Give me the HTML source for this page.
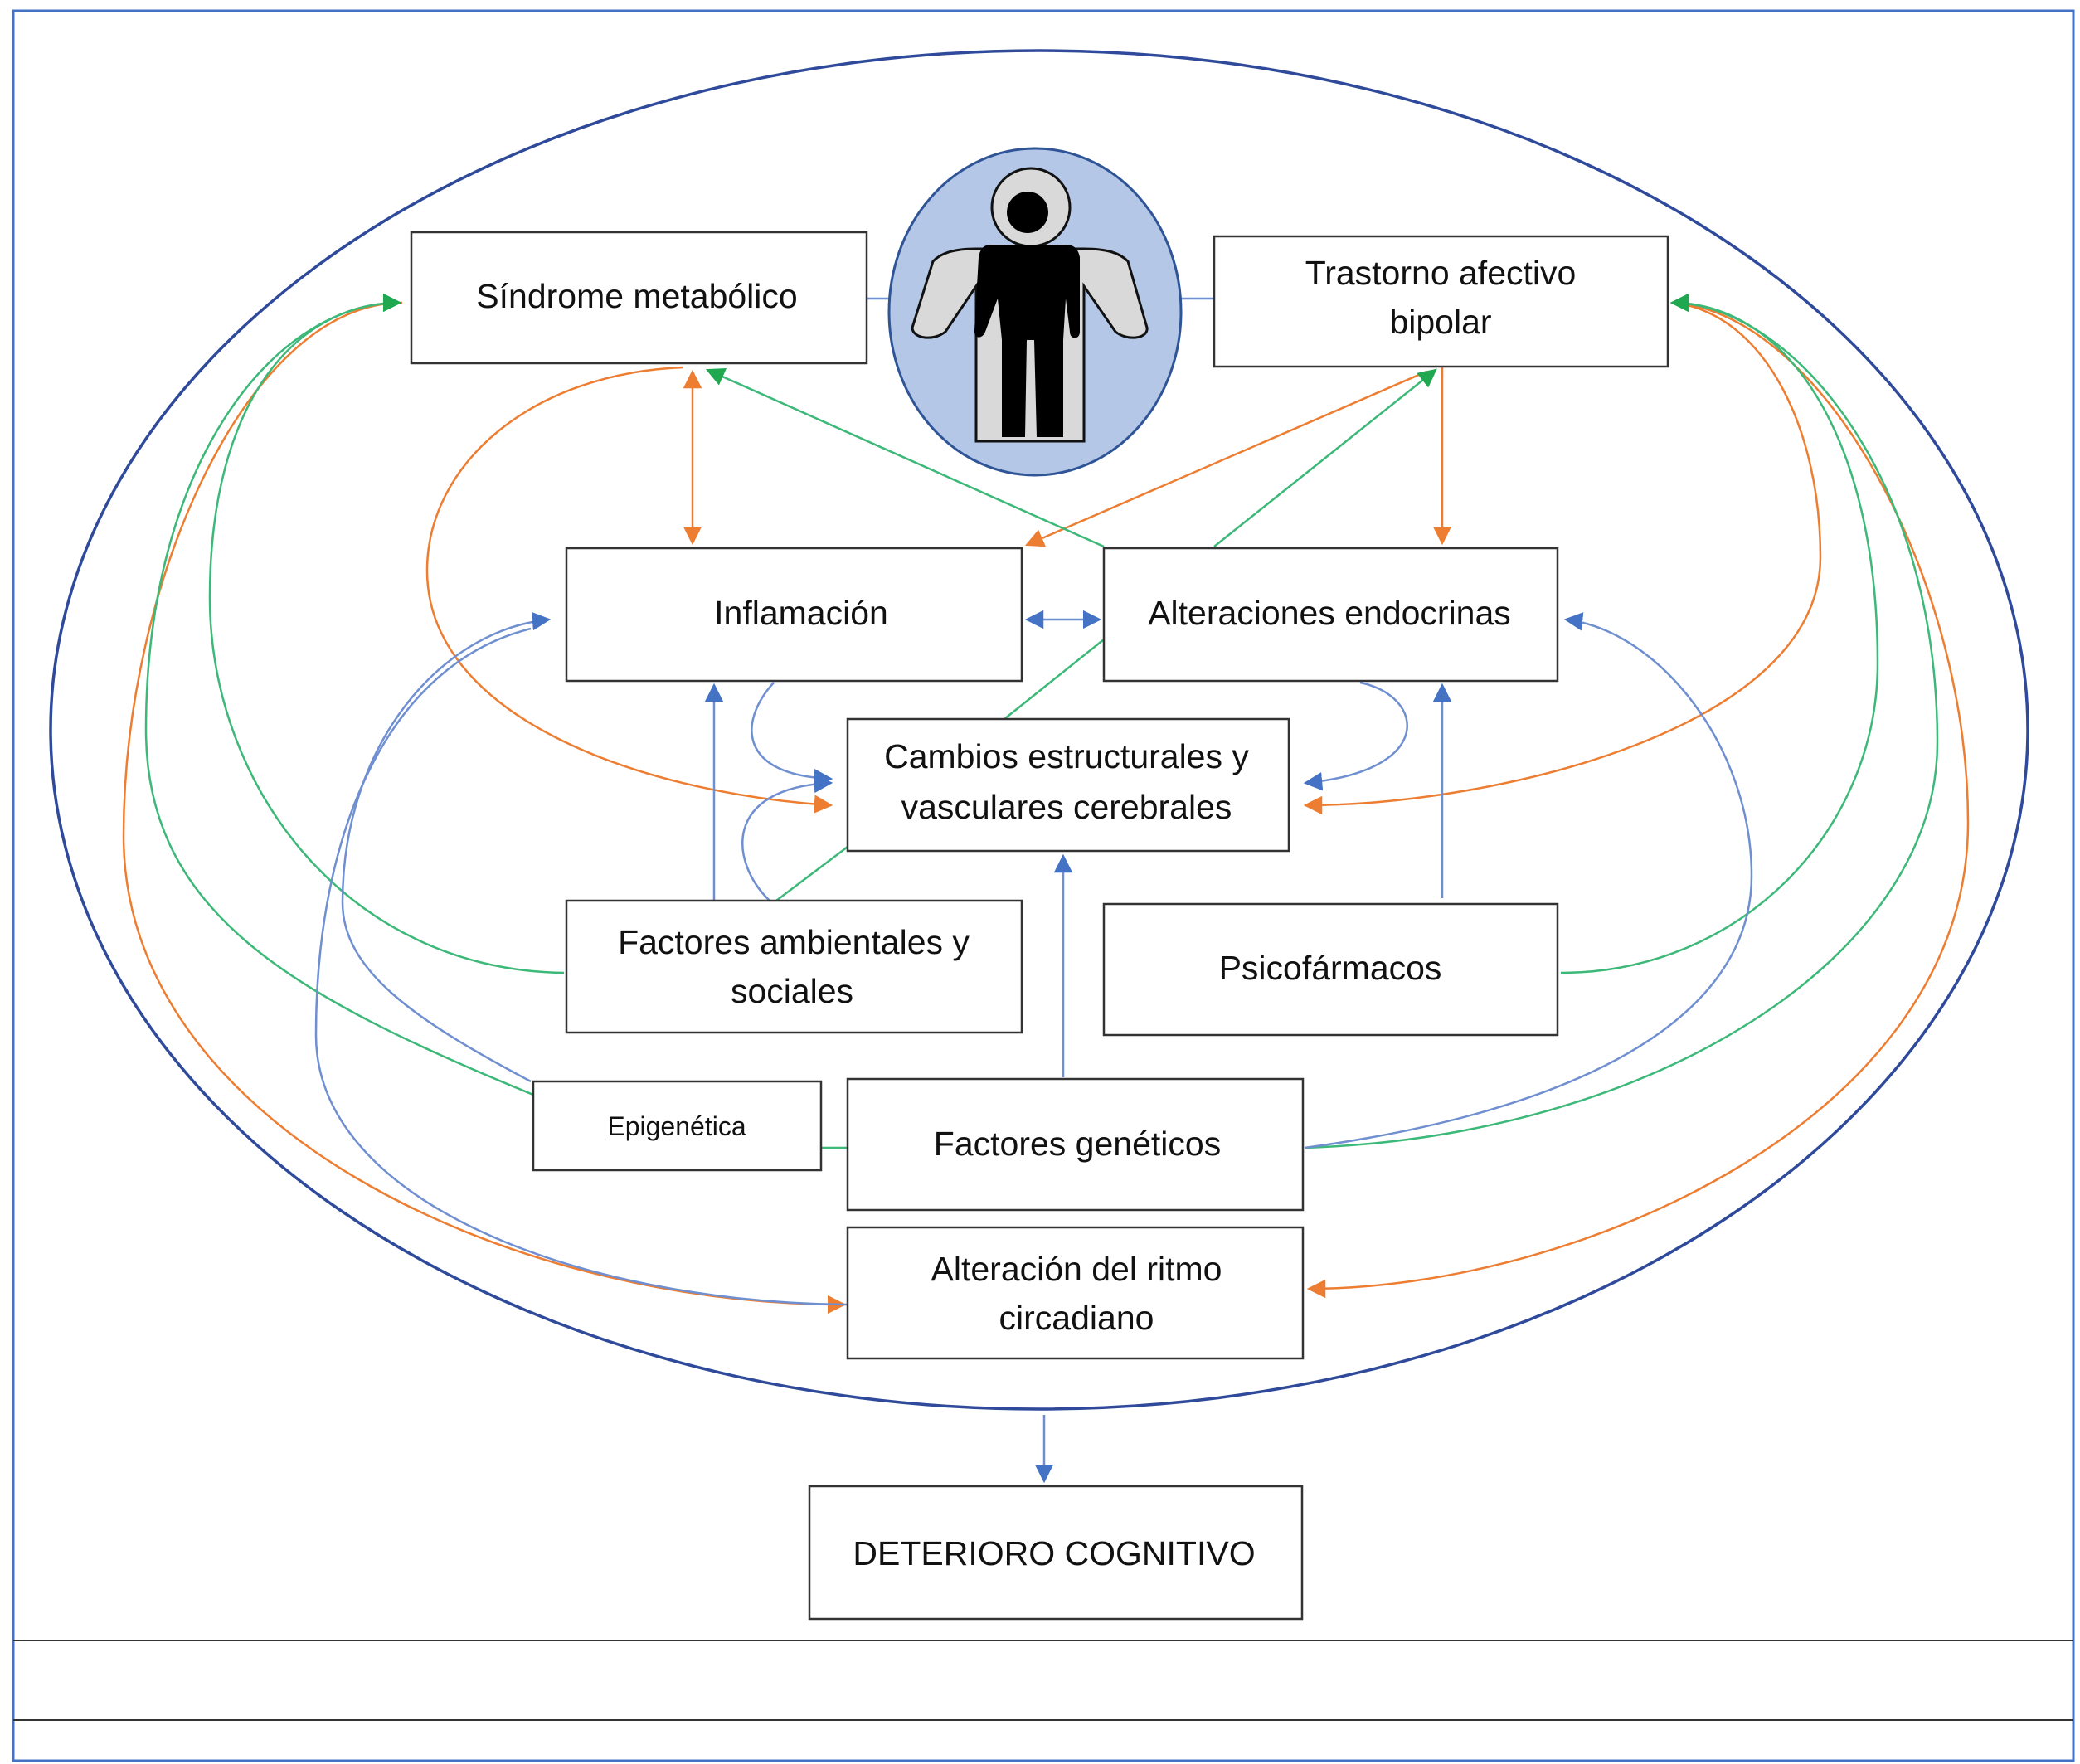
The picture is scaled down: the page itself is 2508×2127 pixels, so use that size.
<!DOCTYPE html>
<html><head><meta charset="utf-8"><style>
html,body{margin:0;padding:0;background:#fff}
svg{display:block}
text{font-family:"Liberation Sans",sans-serif;fill:#111}
</style></head><body>
<svg width="2508" height="2127" viewBox="0 0 2508 2127" xmlns="http://www.w3.org/2000/svg">
<defs>
<marker id="ao" viewBox="0 0 10 10" refX="9" refY="5" markerWidth="9" markerHeight="9" orient="auto-start-reverse"><path d="M0,0 L10,5 L0,10 z" fill="#ed7d31"/></marker>
<marker id="ag" viewBox="0 0 10 10" refX="9" refY="5" markerWidth="9" markerHeight="9" orient="auto-start-reverse"><path d="M0,0 L10,5 L0,10 z" fill="#1fa84f"/></marker>
<marker id="ab" viewBox="0 0 10 10" refX="9" refY="5" markerWidth="9" markerHeight="9" orient="auto-start-reverse"><path d="M0,0 L10,5 L0,10 z" fill="#4472c4"/></marker>
</defs>
<style>
.o{fill:none;stroke:#ed7d31;stroke-width:2.5}
.g{fill:none;stroke:#3cb878;stroke-width:2.5}
.b{fill:none;stroke:#6f8fd0;stroke-width:2.5}
.bx{fill:#fff;stroke:#333;stroke-width:2.5}
</style>
<rect x="16" y="13" width="2484" height="2110" fill="none" stroke="#4472c4" stroke-width="3"/>
<line x1="16" y1="1978" x2="2500" y2="1978" stroke="#333" stroke-width="2"/>
<line x1="16" y1="2074" x2="2500" y2="2074" stroke="#333" stroke-width="2"/>
<ellipse cx="1253" cy="880" rx="1192" ry="819" fill="none" stroke="#2f4a9a" stroke-width="3.5"/>
<line x1="1045" y1="360" x2="1075" y2="360" stroke="#6f8fd0" stroke-width="2.5"/>
<line x1="1422" y1="360" x2="1464" y2="360" stroke="#6f8fd0" stroke-width="2.5"/>

<line class="o" x1="835" y1="448" x2="835" y2="655" marker-start="url(#ao)" marker-end="url(#ao)"/>
<line class="o" x1="1739" y1="442" x2="1739" y2="655" marker-end="url(#ao)"/>
<line class="o" x1="1720" y1="448" x2="1238" y2="657" marker-end="url(#ao)"/>
<path class="o" d="M824 443 C640 450,515 560,515 688 C515 860,760 955,1002 971" marker-end="url(#ao)"/>
<path class="o" d="M2019 365 C2130 380,2195 520,2195 672 C2195 880,1800 971,1574 971" marker-end="url(#ao)"/>
<path class="o" d="M485 365 C300 365,149 700,149 1008 C149 1350,600 1573,1018 1573" marker-end="url(#ao)"/>
<path class="o" d="M2019 365 C2200 380,2373 700,2373 992 C2373 1350,1900 1554,1578 1554" marker-end="url(#ao)"/>

<line class="g" x1="1331" y1="659" x2="853" y2="446" marker-end="url(#ag)"/>
<line class="g" x1="1464" y1="659" x2="1731" y2="446" marker-end="url(#ag)"/>
<line class="g" x1="1331" y1="771" x2="1211" y2="867"/>
<line class="g" x1="1022" y1="1021" x2="936" y2="1086"/>
<line class="g" x1="990" y1="1384" x2="1022" y2="1384"/>
<path class="g" d="M680 1173 C420 1170,253 950,253 720 C253 480,360 365,482 365" marker-end="url(#ag)"/>
<path class="g" d="M643 1320 C350 1200,176 1100,176 880 C176 560,330 365,482 365" marker-end="url(#ag)"/>
<path class="g" d="M1882 1173 C2100 1173,2264 1000,2264 800 C2264 520,2150 365,2016 365" marker-end="url(#ag)"/>
<path class="g" d="M1573 1384 C2000 1370,2336 1150,2336 896 C2336 560,2150 365,2016 365" marker-end="url(#ag)"/>

<line class="b" x1="1238" y1="747" x2="1326" y2="747" marker-start="url(#ab)" marker-end="url(#ab)"/>
<line class="b" x1="861" y1="1086" x2="861" y2="826" marker-end="url(#ab)"/>
<line class="b" x1="1739" y1="1083" x2="1739" y2="826" marker-end="url(#ab)"/>
<line class="b" x1="1282" y1="1299" x2="1282" y2="1032" marker-end="url(#ab)"/>
<path class="b" d="M933 823 C890 870,890 935,1002 939" marker-end="url(#ab)"/>
<path class="b" d="M928 1086 C880 1040,870 950,1002 944" marker-end="url(#ab)"/>
<path class="b" d="M1640 823 C1720 840,1730 930,1574 944" marker-end="url(#ab)"/>
<path class="b" d="M640 1304 C500 1230,413 1170,413 1088 C413 900,530 760,662 747" marker-end="url(#ab)"/>
<path class="b" d="M640 758 C470 800,381 1000,381 1248 C381 1450,700 1570,1021 1573"/>
<path class="b" d="M1573 1384 C1900 1340,2112 1230,2112 1056 C2112 900,2000 760,1888 747" marker-end="url(#ab)"/>
<line class="b" x1="1259" y1="1706" x2="1259" y2="1786" marker-end="url(#ab)"/>

<ellipse cx="1248" cy="376" rx="176" ry="197" fill="#b4c7e7" stroke="#2f5597" stroke-width="3"/>
<path d="M1177 300 C1150 300,1135 305,1125 315 L1100 395 C1100 408,1125 412,1140 400 L1177 345 L1177 532 L1307 532 L1307 345 L1345 400 C1360 412,1385 408,1383 395 L1360 315 C1350 305,1335 300,1307 300 Z" fill="#d9d9d9" stroke="#111" stroke-width="3"/>
<circle cx="1243" cy="250" r="47" fill="#d9d9d9" stroke="#111" stroke-width="3"/>
<circle cx="1239" cy="256" r="25" fill="#000"/>
<path d="M1195 295 L1285 295 C1295 295,1300 300,1302 310 L1302 400 C1302 410,1290 410,1290 400 L1285 360 L1282 410 L1282 527 L1250 527 L1247 410 L1238 410 L1236 527 L1208 527 L1208 410 L1203 360 L1188 400 C1184 410,1174 408,1175 398 L1180 310 C1182 300,1186 295,1195 295 Z" fill="#000"/>

<rect class="bx" x="496" y="280" width="549" height="158"/>
<text x="768" y="371" font-size="41" text-anchor="middle">Síndrome metabólico</text>
<rect class="bx" x="1464" y="285" width="547" height="157"/>
<text x="1737" y="343" font-size="41" text-anchor="middle">Trastorno  afectivo</text>
<text x="1737" y="402" font-size="41" text-anchor="middle">bipolar</text>
<rect class="bx" x="683" y="661" width="549" height="160"/>
<text x="966" y="753" font-size="41" text-anchor="middle">Inflamación</text>
<rect class="bx" x="1331" y="661" width="547" height="160"/>
<text x="1603" y="753" font-size="41" text-anchor="middle">Alteraciones endocrinas</text>
<rect class="bx" x="1022" y="867" width="532" height="159"/>
<text x="1286" y="926" font-size="41" text-anchor="middle">Cambios estructurales y</text>
<text x="1286" y="987" font-size="41" text-anchor="middle">vasculares cerebrales</text>
<rect class="bx" x="683" y="1086" width="549" height="159"/>
<text x="957" y="1150" font-size="41" text-anchor="middle">Factores  ambientales y</text>
<text x="955" y="1209" font-size="41" text-anchor="middle">sociales</text>
<rect class="bx" x="1331" y="1090" width="547" height="158"/>
<text x="1604" y="1181" font-size="41" text-anchor="middle">Psicofármacos</text>
<rect class="bx" x="643" y="1304" width="347" height="107"/>
<text x="816" y="1369" font-size="32" text-anchor="middle">Epigenética</text>
<rect class="bx" x="1022" y="1301" width="549" height="158"/>
<text x="1299" y="1393" font-size="41" text-anchor="middle">Factores  genéticos</text>
<rect class="bx" x="1022" y="1480" width="549" height="158"/>
<text x="1298" y="1544" font-size="41" text-anchor="middle">Alteración del ritmo</text>
<text x="1298" y="1603" font-size="41" text-anchor="middle">circadiano</text>
<rect class="bx" x="976" y="1792" width="594" height="160"/>
<text x="1271" y="1887" font-size="41" text-anchor="middle">DETERIORO COGNITIVO</text>
</svg>
</body></html>
